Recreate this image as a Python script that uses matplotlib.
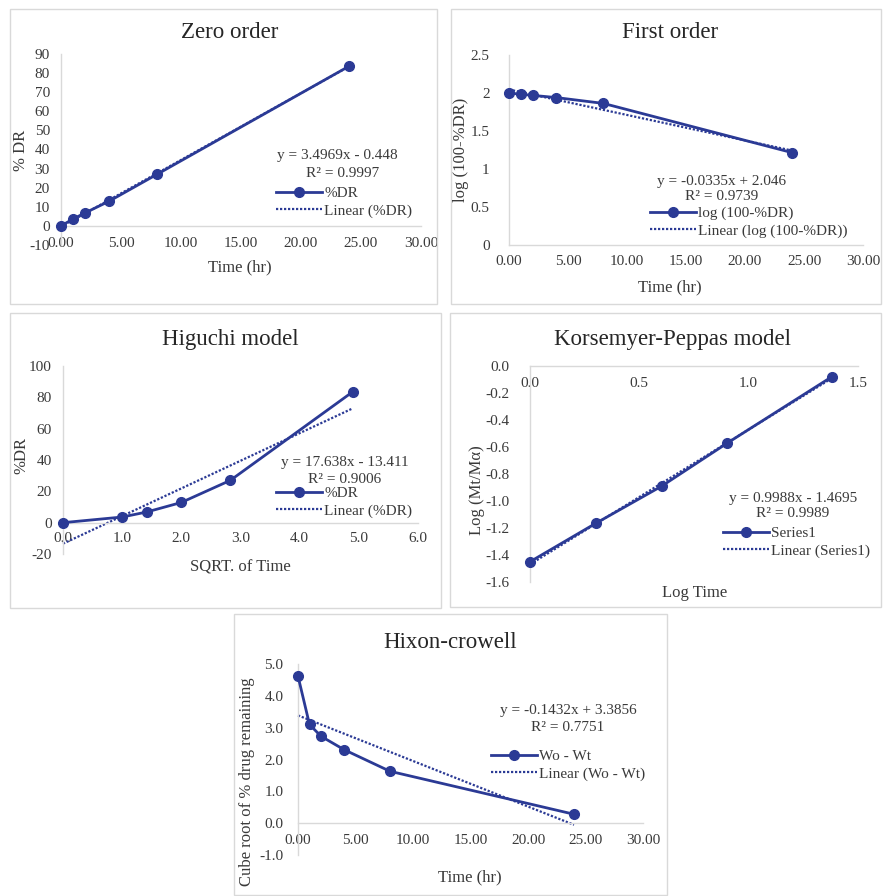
import matplotlib
matplotlib.use("Agg")
import matplotlib.pyplot as plt
from matplotlib.lines import Line2D
from matplotlib.patches import Rectangle
from matplotlib.ticker import FuncFormatter

# ---------------- data ----------------
time_hr = [0, 1, 2, 4, 8, 24]
pct_dr = [0.0, 3.6, 6.8, 12.9, 27.0, 83.6]
log_remaining = [2.0, 1.984, 1.969, 1.940, 1.863, 1.215]
sqrt_time = [0.0, 1.0, 1.414, 2.0, 2.828, 4.899]
log_time = [0.0, 0.301, 0.602, 0.903, 1.380]
log_frac = [-1.45, -1.165, -0.89, -0.57, -0.08]
cube_root = [4.62, 3.10, 2.73, 2.31, 1.63, 0.28]

titles = ["Zero order", "First order", "Higuchi model", "Korsemyer-Peppas model", "Hixon-crowell"]
xlabels = ["Time (hr)", "Time (hr)", "SQRT. of Time", "Log Time", "Time (hr)"]
ylabels = ["% DR", "log (100-%DR)", "%DR", "Log (Mt/M\u03b1)", "Cube root of % drug remaining"]
series_names = ["%DR", "log (100-%DR)", "%DR", "Series1", "Wo - Wt"]
trend_names = ["Linear (%DR)", "Linear (log (100-%DR))", "Linear (%DR)", "Linear (Series1)", "Linear (Wo - Wt)"]
slopes = [3.4969, -0.0335, 17.638, 0.9988, -0.1432]
intercepts = [-0.448, 2.046, -13.411, -1.4695, 3.3856]
eq_texts = ["y = 3.4969x - 0.448", "y = -0.0335x + 2.046", "y = 17.638x - 13.411",
            "y = 0.9988x - 1.4695", "y = -0.1432x + 3.3856"]
r2_texts = ["R\u00b2 = 0.9997", "R\u00b2 = 0.9739", "R\u00b2 = 0.9006", "R\u00b2 = 0.9989", "R\u00b2 = 0.7751"]
xticks = [[0, 5, 10, 15, 20, 25, 30], [0, 5, 10, 15, 20, 25, 30], [0, 1, 2, 3, 4, 5, 6],
          [0, 0.5, 1.0, 1.5], [0, 5, 10, 15, 20, 25, 30]]
yticks = [[-10, 0, 10, 20, 30, 40, 50, 60, 70, 80, 90], [0, 0.5, 1, 1.5, 2, 2.5],
          [-20, 0, 20, 40, 60, 80, 100], [-1.6, -1.4, -1.2, -1.0, -0.8, -0.6, -0.4, -0.2, 0.0],
          [-1, 0, 1, 2, 3, 4, 5]]

xs = [time_hr, time_hr, sqrt_time, log_time, time_hr]
ys = [pct_dr, log_remaining, pct_dr, log_frac, cube_root]

# ---------------- layout (pixels) ----------------
W, H = 883, 896
plt.rcParams['font.family'] = ['Liberation Serif', 'DejaVu Serif']
fig = plt.figure(figsize=(W / 100, H / 100), dpi=100)
fig.patch.set_facecolor('white')

def fx(x):
    return x / W

def fy(y):
    return 1 - y / H

NAVY = '#2B3A95'
GRID = '#D9D9D9'
TXT = '#3A3A3A'

# panel borders: (x0, y0, x1, y1)
borders = [(10, 9, 437, 304), (451, 9, 881, 304), (10, 313, 441, 608), (450, 313, 881, 607),
           (234, 614, 667, 895)]
# axes boxes: left, top, right, bottom
axboxes = [(61, 54, 421, 245), (509, 55, 863, 245), (63, 366, 418, 554), (530, 366, 858, 582),
           (298, 664, 643, 855)]
xlims = [(0, 30), (0, 30), (0, 6), (0, 1.5), (0, 30)]
ylims = [(-10, 90), (0, 2.5), (-20, 100), (-1.6, 0), (-1, 5)]
xfmt = ["{:.2f}", "{:.2f}", "{:.1f}", "{:.1f}", "{:.2f}"]
yfmt = ["{:.0f}", "{:g}", "{:.0f}", "{:.1f}", "{:.1f}"]
xpads = [8, 7.5, 7, 8, 8]
ypads = [8, 14, 8, 15, 10.5]
title_pos = [(230, 32), (670, 32), (230, 340), (672, 340), (450, 642)]
xlabel_pos = [(240, 267), (670, 287), (240, 568), (695, 593), (470, 877)]
ylabel_pos = [(21, 150), (461, 150), (21, 455), (477, 490), (247, 782)]
eq_pos = [(337, 156), (722, 181), (345, 462), (793, 498), (568, 710)]
r2_pos = [(343, 173), (722, 197), (345, 479), (793, 513), (568, 727)]
leg_pos = [(276, 202), (650, 222), (276, 502), (723, 542), (491, 765)]

for i in range(5):
    bx0, by0, bx1, by1 = borders[i]
    fig.patches.append(Rectangle((fx(bx0), fy(by1)), fx(bx1) - fx(bx0), fy(by0) - fy(by1),
                                 transform=fig.transFigure, fill=False, edgecolor=GRID, lw=1.0))
    l, t, r, b = axboxes[i]
    ax = fig.add_axes([fx(l), fy(b), fx(r) - fx(l), fy(t) - fy(b)])
    ax.set_facecolor('none')
    ax.set_xlim(*xlims[i])
    ax.set_ylim(*ylims[i])
    for s in ['top', 'right']:
        ax.spines[s].set_visible(False)
    ax.spines['left'].set_position(('data', 0))
    ax.spines['bottom'].set_position(('data', 0))
    for s in ['left', 'bottom']:
        ax.spines[s].set_color(GRID)
        ax.spines[s].set_linewidth(1.0)
    ax.set_xticks(xticks[i])
    ax.set_yticks(yticks[i])
    fx_i, fy_i = xfmt[i], yfmt[i]
    ax.xaxis.set_major_formatter(FuncFormatter(lambda v, p, f=fx_i: f.format(0.0 if abs(v) < 1e-9 else v)))
    ax.yaxis.set_major_formatter(FuncFormatter(lambda v, p, f=fy_i: f.format(0.0 if abs(v) < 1e-9 else v)))
    ax.tick_params(axis='both', length=0, labelsize=11, labelcolor=TXT)
    ax.tick_params(axis='x', pad=xpads[i])
    ax.tick_params(axis='y', pad=ypads[i])

    x, y = xs[i], ys[i]
    ax.plot(x, y, color=NAVY, lw=2.0, marker='o', ms=7, zorder=3, clip_on=False)
    tx = [min(x), max(x)]
    ty = [slopes[i] * v + intercepts[i] for v in tx]
    ax.plot(tx, ty, color=NAVY, lw=1.6, ls=(0, (1, 0.8)), zorder=2, clip_on=False)

    fig.text(fx(title_pos[i][0]), fy(title_pos[i][1]), titles[i], ha='center', va='center',
             fontsize=16.5, color='#262626')
    fig.text(fx(xlabel_pos[i][0]), fy(xlabel_pos[i][1]), xlabels[i], ha='center', va='center',
             fontsize=12, color=TXT)
    fig.text(fx(ylabel_pos[i][0]), fy(ylabel_pos[i][1]), ylabels[i], ha='center', va='center',
             fontsize=12, color=TXT, rotation=90)
    fig.text(fx(eq_pos[i][0]), fy(eq_pos[i][1]), eq_texts[i], ha='center', va='center',
             fontsize=11, color=TXT)
    fig.text(fx(r2_pos[i][0]), fy(r2_pos[i][1]), r2_texts[i], ha='center', va='center',
             fontsize=11, color=TXT)
    handles = [Line2D([], [], color=NAVY, lw=2.0, marker='o', ms=7),
               Line2D([], [], color=NAVY, lw=1.6, ls=(0, (1, 0.8)))]
    leg = fig.legend(handles, [series_names[i], trend_names[i]], loc='center left',
                     bbox_to_anchor=(fx(leg_pos[i][0]), fy(leg_pos[i][1])),
                     bbox_transform=fig.transFigure, frameon=False, fontsize=11,
                     handlelength=3.0, handletextpad=0.15, labelspacing=0.25,
                     borderpad=0, borderaxespad=0)
    for t in leg.get_texts():
        t.set_color(TXT)

fig.savefig('out.png', dpi=100, facecolor='white')
